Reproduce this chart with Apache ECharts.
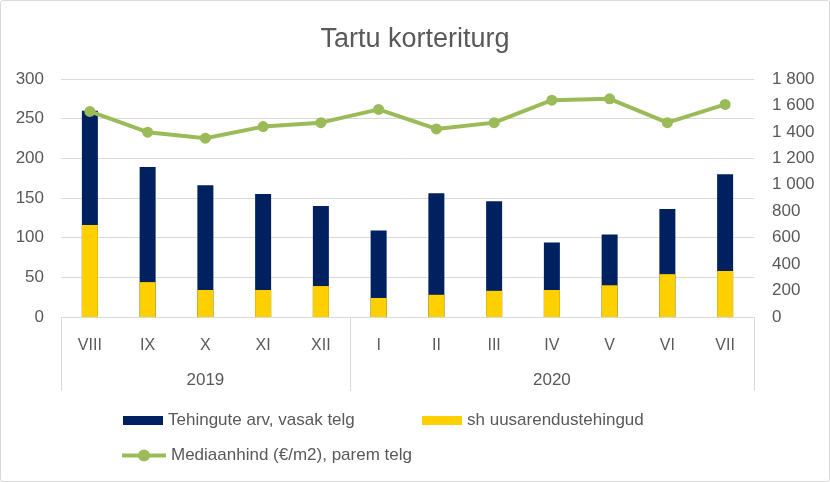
<!DOCTYPE html>
<html><head><meta charset="utf-8">
<script src="https://cdn.jsdelivr.net/npm/echarts@6/dist/echarts.min.js"></script>
<style>html,body{margin:0;padding:0;background:#fff}#c{width:828px;height:480px;border:1px solid #d9d9d9;border-radius:3px}</style>
</head><body><div id="c"></div>
<script>
const months = ['VIII','IX','X','XI','XII','I','II','III','IV','V','VI','VII'];
const yearLabels = ['', '', '2019', '', '', '', '', '', '2020', '', '', ''];
const yearStartIdx = [0, 5];
const deals = [260, 189, 166, 155, 140, 109, 156, 146, 94, 104, 136, 180];
const newDeals = [116, 44, 34, 34, 39, 24, 28, 33, 34, 40, 54, 58];
const medianPrice = [1555, 1398, 1352, 1440, 1470, 1570, 1422, 1470, 1640, 1650, 1470, 1608];
const nameDeals = 'Tehingute arv, vasak telg';
const nameNew = 'sh uusarendustehingud';
const nameLine = 'Mediaanhind (€/m2), parem telg';

const FONT = 'Liberation Sans';
const GREY = '#595959';
const legendText = {fontSize: 17, color: GREY, fontFamily: FONT};
const chart = echarts.init(document.getElementById('c'));
chart.setOption({
  animation: false,
  textStyle: {fontFamily: FONT},
  title: {text: 'Tartu korteriturg', left: 'center', top: 20,
    textStyle: {fontFamily: FONT, fontSize: 27, fontWeight: 'normal', color: GREY}},
  grid: {left: 60, right: 75, top: 78, bottom: 164, containLabel: false},
  legend: [
    {data: [nameDeals], left: 117, top: 406, itemWidth: 40, itemHeight: 9, icon: 'rect',
      textStyle: legendText},
    {data: [nameNew], left: 416, top: 406, itemWidth: 40, itemHeight: 9, icon: 'rect',
      textStyle: legendText},
    {data: [nameLine], left: 114, top: 441, itemWidth: 44, itemHeight: 15,
      lineStyle: {width: 4, color: '#9bbb59'}, textStyle: legendText}
  ],
  xAxis: [
    {type: 'category', data: months, position: 'bottom',
      axisLine: {lineStyle: {color: '#d9d9d9'}}, axisTick: {show: false},
      axisLabel: {color: GREY, fontSize: 16, margin: 21}},
    {type: 'category', data: yearLabels, position: 'bottom', gridIndex: 0,
      axisLine: {show: false},
      axisTick: {show: true, length: 74, lineStyle: {color: '#d9d9d9'},
        interval: function (i) { return yearStartIdx.indexOf(i) >= 0; }},
      axisLabel: {color: GREY, fontSize: 17, margin: 55, interval: 0}}
  ],
  yAxis: [
    {type: 'value', min: 0, max: 300, interval: 50,
      axisLine: {show: false}, axisTick: {show: false},
      splitLine: {lineStyle: {color: '#d9d9d9'}},
      axisLabel: {color: GREY, fontSize: 17, margin: 17}},
    {type: 'value', min: 0, max: 1800, interval: 200, position: 'right',
      axisLine: {show: false}, axisTick: {show: false}, splitLine: {show: false},
      axisLabel: {color: GREY, fontSize: 17, margin: 18,
        formatter: v => String(v).replace(/\B(?=(\d{3})+(?!\d))/g, ' ')}}
  ],
  series: [
    {name: nameDeals, type: 'bar', data: deals, barWidth: 16, barGap: '-100%',
      itemStyle: {color: '#002060'}},
    {name: nameNew, type: 'bar', data: newDeals, barWidth: 16, barGap: '-100%',
      itemStyle: {color: '#ffd000'}},
    {name: nameLine, type: 'line', yAxisIndex: 1, data: medianPrice,
      symbol: 'circle', symbolSize: 11,
      lineStyle: {color: '#9bbb59', width: 4}, itemStyle: {color: '#9bbb59'}}
  ]
});
</script></body></html>
